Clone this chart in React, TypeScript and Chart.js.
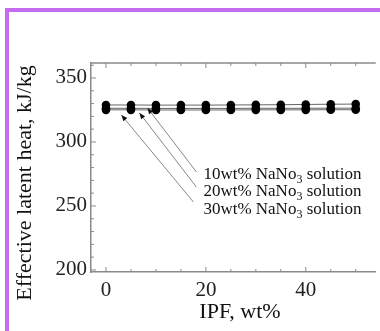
import React, { useEffect, useRef } from 'react';
import { Chart, registerables } from 'chart.js';

Chart.register(...registerables);

// IPF content, wt%
const ipf = [0, 5, 10, 15, 20, 25, 30, 35, 40, 45, 50];
// Effective latent heat, kJ/kg
const latent10 = [328.9, 328.9, 328.8, 328.8, 328.8, 328.9, 329.0, 329.1, 329.3, 329.5, 329.6];
const latent20 = [326.3, 326.3, 326.2, 326.2, 326.2, 326.2, 326.3, 326.3, 326.3, 326.4, 326.4];
const latent30 = [325.1, 325.1, 325.0, 325.0, 325.0, 325.0, 325.1, 325.1, 325.1, 325.2, 325.2];

const seriesNames = ['10wt%', '20wt%', '30wt%'];
// annotation anchors in data units
const labelX = [19.5, 19.5, 19.5];
const labelY = [274.2, 260.9, 246.9];
const arrowTailX = [18.1, 18.1, 17.5];
const arrowTailY = [276.6, 264.8, 253.1];
const arrowTipX = [8.3, 6.7, 3.1];
const arrowTipY = [326.6, 322.7, 321.0];

const xLabelTicks = [0, 20, 40];
const yLabelTicks = [200, 250, 300, 350];

const xTitle = 'IPF, wt%';
const yTitle = 'Effective latent heat, kJ/kg';

const SERIF = '"Liberation Serif", "Times New Roman", serif';

const framePlugin = {
  id: 'frame',
  beforeDraw(chart: any) {
    const { ctx } = chart;
    ctx.save();
    ctx.fillStyle = '#fff';
    ctx.fillRect(0, 0, chart.width, chart.height);
    ctx.fillStyle = '#c56cf0';
    ctx.fillRect(5, 8, 4, chart.height - 8);
    ctx.fillRect(5, 8, chart.width - 5, 4);
    ctx.restore();
  },
};

const decorPlugin = {
  id: 'decor',
  afterDraw(chart: any) {
    const { ctx, chartArea, scales } = chart;
    const xs = scales.x;
    const ys = scales.y;
    ctx.save();
    ctx.strokeStyle = '#8a8a8a';
    ctx.lineWidth = 1.5;
    ctx.beginPath();
    ctx.moveTo(chartArea.left, chartArea.top);
    ctx.lineTo(chartArea.right, chartArea.top);
    ctx.stroke();
    ctx.lineWidth = 1;
    ctx.strokeStyle = '#8a8a8a';
    xs.ticks.forEach((t: any) => {
      const px = xs.getPixelForValue(t.value);
      const len = xLabelTicks.includes(t.value) ? 5 : 3;
      ctx.beginPath();
      ctx.moveTo(px, chartArea.bottom);
      ctx.lineTo(px, chartArea.bottom - len);
      ctx.moveTo(px, chartArea.top);
      ctx.lineTo(px, chartArea.top + len);
      ctx.stroke();
    });
    ys.ticks.forEach((t: any) => {
      const py = ys.getPixelForValue(t.value);
      const len = yLabelTicks.includes(t.value) ? 5 : 3;
      ctx.beginPath();
      ctx.moveTo(chartArea.left, py);
      ctx.lineTo(chartArea.left + len, py);
      ctx.stroke();
    });
    for (let i = 0; i < seriesNames.length; i++) {
      const x0 = xs.getPixelForValue(arrowTailX[i]);
      const y0 = ys.getPixelForValue(arrowTailY[i]);
      const x1 = xs.getPixelForValue(arrowTipX[i]);
      const y1 = ys.getPixelForValue(arrowTipY[i]);
      ctx.strokeStyle = '#888';
      ctx.lineWidth = 1;
      ctx.beginPath();
      ctx.moveTo(x0, y0);
      ctx.lineTo(x1, y1);
      ctx.stroke();
      const ang = Math.atan2(y1 - y0, x1 - x0);
      const hl = 6;
      const hw = 2.5;
      ctx.fillStyle = '#111';
      ctx.beginPath();
      ctx.moveTo(x1, y1);
      ctx.lineTo(x1 - hl * Math.cos(ang) + hw * Math.sin(ang), y1 - hl * Math.sin(ang) - hw * Math.cos(ang));
      ctx.lineTo(x1 - hl * Math.cos(ang) - hw * Math.sin(ang), y1 - hl * Math.sin(ang) + hw * Math.cos(ang));
      ctx.closePath();
      ctx.fill();
    }
    ctx.fillStyle = '#111';
    ctx.textBaseline = 'middle';
    ctx.textAlign = 'left';
    for (let i = 0; i < seriesNames.length; i++) {
      let x = xs.getPixelForValue(labelX[i]);
      const y = ys.getPixelForValue(labelY[i]);
      ctx.font = `17px ${SERIF}`;
      const a = `${seriesNames[i]} NaNo`;
      ctx.fillText(a, x, y);
      x += ctx.measureText(a).width;
      ctx.font = `12px ${SERIF}`;
      ctx.fillText('3', x, y + 5);
      x += ctx.measureText('3').width;
      ctx.font = `17px ${SERIF}`;
      ctx.fillText(' solution', x, y);
    }
    ctx.fillStyle = '#111';
    ctx.font = `22px ${SERIF}`;
    ctx.textAlign = 'center';
    ctx.textBaseline = 'middle';
    ctx.fillText(xTitle, 240, 312);
    ctx.translate(25, 183);
    ctx.rotate(-Math.PI / 2);
    ctx.fillText(yTitle, 0, 0);
    ctx.restore();
  },
};

export default function App() {
  const ref = useRef<HTMLCanvasElement>(null);
  useEffect(() => {
    if (!ref.current) return;
    const mk = (data: number[]) => ({
      data: ipf.map((x, i) => ({ x, y: data[i] })),
      borderColor: '#666',
      borderWidth: 1,
      pointRadius: 4.3,
      pointBackgroundColor: '#000',
      pointBorderColor: '#000',
      pointBorderWidth: 0,
      showLine: true,
      tension: 0,
    });
    const chart = new Chart(ref.current, {
      type: 'scatter',
      data: {
        datasets: [mk(latent10), mk(latent20), mk(latent30)],
      },
      options: {
        responsive: false,
        animation: false,
        layout: { padding: { top: 63, left: 0, right: 0, bottom: 0 } },
        plugins: { legend: { display: false }, tooltip: { enabled: false } },
        scales: {
          x: {
            type: 'linear',
            min: -3,
            max: 54,
            grid: { display: false, drawTicks: false },
            border: { display: true, color: '#8a8a8a', width: 1.5 },
            afterFit: (s: any) => { s.height = 59; },
            ticks: {
              stepSize: 5,
              includeBounds: false,
              autoSkip: false,
              maxRotation: 0,
              padding: 6,
              color: '#222',
              font: { family: SERIF, size: 21 },
              callback: (v: any) => (xLabelTicks.includes(Number(v)) ? String(v) : ''),
            },
          },
          y: {
            type: 'linear',
            min: 198.4,
            max: 361.7,
            grid: { display: false, drawTicks: false },
            border: { display: true, color: '#8a8a8a', width: 1.5 },
            afterFit: (s: any) => { s.width = 91; },
            ticks: {
              stepSize: 10,
              includeBounds: false,
              autoSkip: false,
              padding: 4,
              color: '#222',
              font: { family: SERIF, size: 21 },
              callback: (v: any) => (yLabelTicks.includes(Number(v)) ? String(v) : ''),
            },
          },
        },
      },
      plugins: [framePlugin, decorPlugin],
    });
    return () => chart.destroy();
  }, []);
  return (
    <div style={{ position: 'fixed', left: 0, top: 0, width: 380, height: 331, background: '#fff', overflow: 'hidden' }}>
      <canvas ref={ref} width={380} height={331} style={{ position: 'absolute', left: 0, top: 0, display: 'block' }} />
    </div>
  );
}
